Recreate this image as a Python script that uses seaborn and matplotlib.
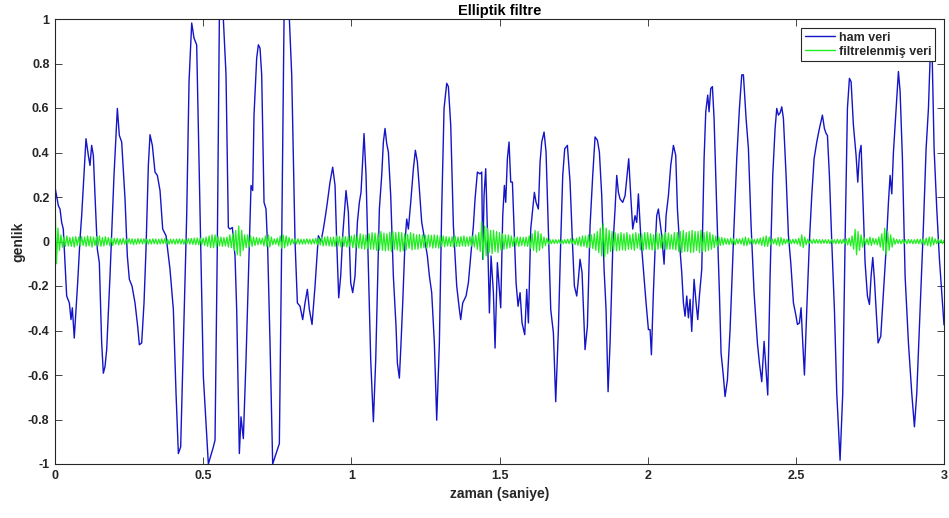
import numpy as np
import pandas as pd
import matplotlib
matplotlib.use("Agg")
import matplotlib.pyplot as plt
import seaborn as sns

# ---------------- data ----------------
raw_t = [0.0, 0.0113, 0.0169, 0.0225, 0.028, 0.0338, 0.0394, 0.0484, 0.054, 0.0585,
         0.065, 0.0731, 0.0765, 0.0844, 0.09, 0.0956, 0.1046, 0.1125, 0.1181, 0.1237,
         0.1294, 0.135, 0.1429, 0.1496, 0.1575, 0.1631, 0.1688, 0.1744, 0.1856, 0.1991,
         0.2104, 0.2171, 0.225, 0.2363, 0.2441, 0.2509, 0.2599, 0.27, 0.279, 0.2846,
         0.2925, 0.3004, 0.3071, 0.315, 0.3206, 0.3285, 0.3375, 0.3454, 0.3544, 0.3634,
         0.3746, 0.3881, 0.3994, 0.4084, 0.4163, 0.4241, 0.4331, 0.4444, 0.4523, 0.4613,
         0.4691, 0.4781, 0.4894, 0.5006, 0.5175, 0.5344, 0.54, 0.5479, 0.5546, 0.5681,
         0.5771, 0.585, 0.5906, 0.5985, 0.6075, 0.6131, 0.6221, 0.6277, 0.6356, 0.6446,
         0.6559, 0.6615, 0.6671, 0.6716, 0.6806, 0.6862, 0.6919, 0.6975, 0.7054, 0.7121,
         0.7178, 0.7256, 0.7346, 0.7459, 0.7571, 0.765, 0.7729, 0.7909, 0.7988, 0.81,
         0.8179, 0.8269, 0.8359, 0.8437, 0.8516, 0.8584, 0.8674, 0.8775, 0.8887, 0.8977,
         0.9056, 0.9135, 0.9191, 0.9281, 0.9371, 0.945, 0.9506, 0.9574, 0.9641, 0.9709,
         0.9765, 0.9821, 0.99, 0.9979, 1.0046, 1.0125, 1.0204, 1.0271, 1.0327, 1.0384,
         1.0429, 1.0496, 1.0575, 1.0654, 1.0744, 1.0823, 1.089, 1.0946, 1.1025, 1.1081,
         1.1137, 1.1194, 1.125, 1.1329, 1.1418, 1.1508, 1.1554, 1.1621, 1.1677, 1.1734,
         1.1812, 1.1869, 1.1925, 1.2004, 1.2094, 1.2161, 1.2229, 1.2296, 1.2375, 1.2487,
         1.2566, 1.2634, 1.2712, 1.2802, 1.2881, 1.2971, 1.305, 1.3129, 1.3219, 1.3275,
         1.3354, 1.3444, 1.3556, 1.3646, 1.3691, 1.3759, 1.3871, 1.395, 1.4029, 1.4119,
         1.4175, 1.4254, 1.4344, 1.44, 1.4434, 1.4479, 1.4535, 1.4602, 1.4659, 1.4715,
         1.4794, 1.485, 1.4928, 1.4996, 1.5041, 1.5109, 1.5165, 1.521, 1.5266, 1.5322,
         1.5379, 1.5435, 1.5502, 1.5559, 1.5626, 1.5694, 1.5761, 1.5851, 1.5919, 1.5975,
         1.6054, 1.611, 1.6177, 1.6234, 1.6312, 1.6369, 1.6425, 1.6504, 1.6571, 1.665,
         1.6729, 1.6819, 1.6897, 1.6987, 1.7066, 1.7134, 1.7201, 1.7291, 1.7381, 1.7471,
         1.7527, 1.7606, 1.7662, 1.7718, 1.7786, 1.7887, 1.7966, 1.8056, 1.8146, 1.8225,
         1.8304, 1.8371, 1.845, 1.8529, 1.8596, 1.8664, 1.8731, 1.8821, 1.89, 1.8956,
         1.9012, 1.9069, 1.9159, 1.9237, 1.9361, 1.9429, 1.9496, 1.9575, 1.9631, 1.9687,
         1.9766, 1.9856, 1.9946, 2.0025, 2.0081, 2.0126, 2.0193, 2.025, 2.0306, 2.0362,
         2.0419, 2.0475, 2.0554, 2.0621, 2.07, 2.0779, 2.0869, 2.0947, 2.1004, 2.1071,
         2.115, 2.1206, 2.1262, 2.1319, 2.1375, 2.1431, 2.1487, 2.1566, 2.1634, 2.169,
         2.1746, 2.1825, 2.1904, 2.196, 2.2027, 2.2072, 2.2129, 2.2185, 2.2241, 2.2331,
         2.2421, 2.2477, 2.2556, 2.2612, 2.2691, 2.2781, 2.2894, 2.3006, 2.3096, 2.3175,
         2.3231, 2.3321, 2.34, 2.349, 2.3591, 2.3703, 2.3771, 2.385, 2.3929, 2.3996,
         2.4052, 2.4131, 2.4221, 2.43, 2.4356, 2.4412, 2.4469, 2.4525, 2.4581, 2.4671,
         2.475, 2.4829, 2.4919, 2.4997, 2.5054, 2.5121, 2.5177, 2.5234, 2.529, 2.5369,
         2.5458, 2.5537, 2.5616, 2.5706, 2.5796, 2.5897, 2.5964, 2.6021, 2.6066, 2.6133,
         2.6212, 2.6302, 2.6381, 2.6493, 2.6583, 2.6662, 2.6741, 2.6808, 2.6865, 2.6943,
         2.7033, 2.709, 2.7146, 2.7202, 2.7259, 2.7337, 2.7416, 2.7484, 2.754, 2.7596,
         2.7652, 2.7709, 2.7776, 2.7866, 2.7934, 2.799, 2.8046, 2.8125, 2.8181, 2.8238,
         2.8294, 2.8384, 2.8462, 2.8519, 2.8597, 2.8687, 2.88, 2.8912, 2.9002, 2.9081,
         2.9193, 2.9306, 2.9396, 2.9475, 2.9531, 2.9587, 2.9666, 2.9756, 2.9846, 2.9925,
         3.0]

raw_v = [0.244, 0.161, 0.146, 0.086, 0.056, -0.095, -0.245, -0.276, -0.351, -0.298,
         -0.434, -0.261, -0.185, 0.011, 0.116, 0.252, 0.462, 0.387, 0.342, 0.432,
         0.387, 0.206, -0.035, -0.095, -0.456, -0.592, -0.562, -0.486, -0.155, 0.297,
         0.598, 0.477, 0.447, 0.191, -0.065, -0.170, -0.200, -0.276, -0.381, -0.464,
         -0.456, -0.276, -0.035, 0.342, 0.480, 0.432, 0.312, 0.297, 0.229, 0.056,
         0.026, -0.125, -0.306, -0.682, -0.953, -0.923, -0.456, 0.116, 0.718, 0.982,
         0.914, 0.884, 0.146, -0.607, -1.0, -0.923, -0.893, 0.0, 1.0, 1.0,
         0.749, 0.063, 0.056, 0.063, -0.065, -0.306, -0.953, -0.788, -0.886, -0.532,
         0.0, 0.252, 0.229, 0.568, 0.824, 0.884, 0.869, 0.749, 0.176, 0.146,
         -0.035, -0.456, -1.0, -0.953, -0.908, 0.0, 1.0, 1.0, 0.749, 0.0,
         -0.276, -0.291, -0.351, -0.276, -0.215, -0.306, -0.373, -0.200, 0.026, 0.0,
         0.056, 0.123, 0.176, 0.267, 0.334, 0.252, 0.0, -0.253, -0.155, 0.026,
         0.131, 0.229, 0.131, -0.185, -0.230, -0.155, 0.086, 0.176, 0.221, 0.372,
         0.485, 0.297, -0.125, -0.532, -0.810, -0.532, -0.155, 0.146, 0.297, 0.447,
         0.508, 0.440, 0.402, 0.206, -0.155, -0.381, -0.547, -0.614, -0.456, -0.276,
         0.0, 0.101, 0.056, 0.176, 0.327, 0.410, 0.357, 0.236, 0.086, 0.0,
         -0.065, -0.155, -0.230, -0.456, -0.803, -0.456, 0.146, 0.598, 0.711, 0.696,
         0.523, 0.071, -0.200, -0.306, -0.351, -0.276, -0.245, -0.185, -0.065, 0.071,
         0.191, 0.312, 0.304, 0.312, -0.080, 0.206, 0.327, 0.0, -0.321, -0.065,
         -0.230, -0.479, -0.095, -0.215, -0.298, 0.116, 0.252, 0.176, 0.372, 0.447,
         0.267, 0.267, 0.026, -0.185, -0.291, -0.230, -0.366, -0.419, -0.215, -0.366,
         0.056, 0.131, 0.221, 0.176, 0.146, 0.357, 0.447, 0.492, 0.402, 0.056,
         -0.306, -0.411, -0.720, -0.396, 0.0, 0.297, 0.417, 0.432, 0.267, -0.035,
         -0.200, -0.245, -0.170, -0.080, -0.140, -0.486, -0.381, 0.071, 0.297, 0.470,
         0.455, 0.402, 0.206, -0.125, -0.306, -0.675, -0.456, -0.035, 0.146, 0.297,
         0.221, 0.191, 0.176, 0.206, 0.372, 0.206, 0.056, 0.116, 0.086, 0.214,
         0.026, -0.125, -0.276, -0.396, -0.396, -0.509, -0.230, -0.035, 0.116, 0.146,
         0.086, 0.026, -0.102, 0.116, 0.206, 0.342, 0.432, 0.387, 0.146, 0.0,
         -0.140, -0.276, -0.336, -0.245, -0.343, -0.260, -0.404, -0.170, -0.276, -0.351,
         -0.245, -0.125, 0.372, 0.583, 0.658, 0.583, 0.688, 0.696, 0.553, 0.146,
         -0.230, -0.501, -0.607, -0.697, -0.622, -0.396, 0.0, 0.372, 0.598, 0.749,
         0.749, 0.553, 0.417, 0.071, -0.230, -0.456, -0.547, -0.630, -0.449, -0.577,
         -0.690, -0.155, 0.297, 0.508, 0.598, 0.568, 0.578, 0.605, 0.553, 0.297,
         0.026, -0.095, -0.276, -0.328, -0.373, -0.366, -0.298, -0.456, -0.600, -0.306,
         0.0, 0.206, 0.372, 0.447, 0.508, 0.568, 0.508, 0.485, 0.477, 0.297,
         0.0, -0.306, -0.682, -0.983, -0.682, 0.0, 0.598, 0.733, 0.718, 0.523,
         0.387, 0.267, 0.395, 0.432, 0.206, -0.095, -0.245, -0.283, -0.155, -0.072,
         -0.170, -0.306, -0.456, -0.426, -0.276, -0.155, -0.035, 0.176, 0.297, 0.214,
         0.402, 0.598, 0.764, 0.673, 0.372, -0.155, -0.456, -0.682, -0.833, -0.682,
         -0.306, 0.071, 0.417, 0.598, 0.824, 0.920, 0.417, 0.146, -0.080, -0.230,
         -0.375]

# filtered signal, sampled every 0.005 s from 0 to 3 s (one row = 0.1 s)
filt_v = [
    0.20, -0.10, 0.06, -0.04, 0.03, -0.025, 0.02, -0.022, 0.025, -0.02, 0.018, -0.022, 0.02, -0.025, 0.022, -0.018, 0.02, -0.02, 0.022, -0.018,
    0.02, -0.022, 0.025, -0.02, 0.022, -0.025, 0.02, -0.018, 0.022, -0.02, 0.025, -0.022, 0.018, -0.02, 0.022, -0.015, 0.018, -0.02, 0.015, -0.018,
    0.015, -0.012, 0.014, -0.015, 0.012, -0.013, 0.015, -0.012, 0.01, -0.012, 0.013, -0.011, 0.012, -0.014, 0.011, -0.012, 0.013, -0.01, 0.012, -0.011,
    0.012, -0.01, 0.011, -0.012, 0.01, -0.011, 0.012, -0.01, 0.011, -0.012, 0.01, -0.011, 0.012, -0.01, 0.013, -0.011, 0.01, -0.012, 0.011, -0.01,
    0.01, -0.012, 0.011, -0.01, 0.012, -0.011, 0.01, -0.012, 0.011, -0.01, 0.013, -0.012, 0.014, -0.013, 0.015, -0.014, 0.016, -0.015, 0.015, -0.016,
    0.015, -0.018, 0.02, -0.022, 0.025, -0.028, 0.03, -0.028, 0.03, -0.025, 0.022, -0.02, 0.02, -0.022, 0.018, -0.02, 0.02, -0.025, 0.03, -0.028,
    0.035, -0.04, 0.05, -0.06, 0.07, -0.065, 0.05, -0.04, 0.03, -0.028, 0.03, -0.025, 0.025, -0.022, 0.02, -0.018, 0.018, -0.015, 0.015, -0.012,
    0.015, -0.02, 0.025, -0.022, 0.03, -0.025, 0.02, -0.015, 0.012, -0.012, 0.015, -0.02, 0.025, -0.03, 0.03, -0.028, 0.025, -0.02, 0.018, -0.015,
    0.012, -0.01, 0.012, -0.011, 0.012, -0.012, 0.01, -0.012, 0.01, -0.011, 0.012, -0.01, 0.01, -0.012, 0.011, -0.01, 0.014, -0.015, 0.015, -0.016,
    0.018, -0.02, 0.02, -0.018, 0.022, -0.02, 0.018, -0.022, 0.02, -0.022, 0.025, -0.02, 0.022, -0.025, 0.02, -0.022, 0.022, -0.025, 0.025, -0.022,
    0.025, -0.028, 0.03, -0.028, 0.025, -0.03, 0.035, -0.032, 0.03, -0.035, 0.03, -0.032, 0.035, -0.035, 0.04, -0.035, 0.038, -0.04, 0.035, -0.038,
    0.045, -0.04, 0.038, -0.042, 0.035, -0.04, 0.042, -0.045, 0.045, -0.035, 0.04, -0.038, 0.042, -0.045, 0.04, -0.042, 0.035, -0.038, 0.032, -0.03,
    0.04, -0.038, 0.035, -0.035, 0.03, -0.035, 0.032, -0.03, 0.03, -0.028, 0.028, -0.03, 0.03, -0.025, 0.028, -0.03, 0.03, -0.028, 0.028, -0.03,
    0.025, -0.022, 0.025, -0.024, 0.022, -0.02, 0.02, -0.022, 0.022, -0.025, 0.025, -0.022, 0.02, -0.022, 0.022, -0.02, 0.025, -0.022, 0.02, -0.02,
    0.022, -0.02, 0.025, -0.025, 0.03, -0.035, 0.04, -0.045, 0.09, -0.08, 0.07, -0.065, 0.06, -0.05, 0.05, -0.055, 0.05, -0.045, 0.045, -0.05,
    0.04, -0.038, 0.035, -0.035, 0.03, -0.032, 0.03, -0.028, 0.025, -0.022, 0.02, -0.02, 0.02, -0.022, 0.02, -0.018, 0.018, -0.02, 0.02, -0.022,
    0.025, -0.03, 0.035, -0.04, 0.05, -0.048, 0.045, -0.04, 0.035, -0.03, 0.02, -0.018, 0.015, -0.012, 0.01, -0.01, 0.008, -0.009, 0.008, -0.008,
    0.008, -0.009, 0.008, -0.01, 0.008, -0.009, 0.01, -0.01, 0.012, -0.01, 0.012, -0.014, 0.015, -0.018, 0.02, -0.022, 0.025, -0.022, 0.025, -0.028,
    0.03, -0.028, 0.03, -0.032, 0.035, -0.04, 0.045, -0.05, 0.06, -0.065, 0.08, -0.07, 0.06, -0.055, 0.05, -0.045, 0.045, -0.04, 0.04, -0.042,
    0.035, -0.04, 0.04, -0.038, 0.035, -0.04, 0.04, -0.035, 0.03, -0.035, 0.035, -0.04, 0.04, -0.03, 0.035, -0.038, 0.035, -0.04, 0.04, -0.035,
    0.04, -0.035, 0.035, -0.038, 0.03, -0.04, 0.04, -0.035, 0.035, -0.03, 0.03, -0.035, 0.04, -0.035, 0.038, -0.035, 0.03, -0.035, 0.04, -0.038,
    0.04, -0.045, 0.045, -0.05, 0.05, -0.045, 0.04, -0.045, 0.045, -0.05, 0.05, -0.048, 0.045, -0.04, 0.045, -0.05, 0.05, -0.045, 0.04, -0.045,
    0.045, -0.04, 0.04, -0.035, 0.03, -0.028, 0.025, -0.022, 0.02, -0.018, 0.018, -0.015, 0.015, -0.012, 0.012, -0.014, 0.015, -0.013, 0.012, -0.015,
    0.012, -0.01, 0.012, -0.011, 0.015, -0.018, 0.02, -0.018, 0.015, -0.012, 0.012, -0.01, 0.01, -0.012, 0.012, -0.011, 0.015, -0.018, 0.02, -0.022,
    0.025, -0.022, 0.02, -0.015, 0.012, -0.01, 0.012, -0.015, 0.018, -0.02, 0.018, -0.015, 0.012, -0.01, 0.01, -0.01, 0.009, -0.01, 0.01, -0.009,
    0.01, -0.012, 0.015, -0.02, 0.03, -0.028, 0.02, -0.015, 0.01, -0.008, 0.008, -0.009, 0.01, -0.008, 0.009, -0.008, 0.008, -0.009, 0.008, -0.008,
    0.008, -0.009, 0.008, -0.01, 0.009, -0.008, 0.008, -0.01, 0.01, -0.009, 0.008, -0.009, 0.01, -0.012, 0.012, -0.015, 0.015, -0.02, 0.025, -0.035,
    0.055, -0.06, 0.045, -0.04, 0.03, -0.025, 0.02, -0.015, 0.012, -0.015, 0.02, -0.018, 0.015, -0.012, 0.012, -0.015, 0.02, -0.025, 0.035, -0.04,
    0.06, -0.06, 0.045, -0.04, 0.03, -0.025, 0.015, -0.012, 0.01, -0.009, 0.008, -0.01, 0.008, -0.009, 0.008, -0.01, 0.009, -0.008, 0.008, -0.01,
    0.008, -0.009, 0.01, -0.01, 0.01, -0.012, 0.012, -0.015, 0.015, -0.018, 0.02, -0.022, 0.02, -0.015, 0.012, -0.01, 0.01, -0.009, 0.008, -0.01,
    0.005]
filt_t = np.linspace(0.0, 3.0, len(filt_v))

x_ticks = [0, 0.5, 1, 1.5, 2, 2.5, 3]
x_ticklabels = ["0", "0.5", "1", "1.5", "2", "2.5", "3"]
y_ticks = [-1, -0.8, -0.6, -0.4, -0.2, 0, 0.2, 0.4, 0.6, 0.8, 1]
y_ticklabels = ["-1", "-0.8", "-0.6", "-0.4", "-0.2", "0", "0.2", "0.4", "0.6", "0.8", "1"]

title_text = "Elliptik filtre"
x_label = "zaman (saniye)"
y_label = "genlik"
series_names = ["ham veri", "filtrelenmiş veri"]

# ---------------- plotting ----------------
sns.set_theme(style="white")
plt.rcParams["font.family"] = ["Liberation Sans", "DejaVu Sans"]

raw_df = pd.DataFrame({"t": raw_t, "v": raw_v})
filt_df = pd.DataFrame({"t": filt_t, "v": filt_v})

fig = plt.figure(figsize=(9.49, 5.18), dpi=100)
ax = fig.add_axes([55 / 949, 1 - 464 / 518, (944 - 55) / 949, (464 - 19) / 518])

sns.lineplot(data=raw_df, x="t", y="v", ax=ax, color="#1414c8", linewidth=1.0,
             estimator=None, sort=False, label=series_names[0])
sns.lineplot(data=filt_df, x="t", y="v", ax=ax, color="#1fee1f", linewidth=0.9,
             estimator=None, sort=False, label=series_names[1])

ax.set_xlim(0, 3)
ax.set_ylim(-1, 1)
ax.set_xticks(x_ticks)
ax.set_xticklabels(x_ticklabels)
ax.set_yticks(y_ticks)
ax.set_yticklabels(y_ticklabels)

for sp in ax.spines.values():
    sp.set_visible(True)
    sp.set_color("#262626")
    sp.set_linewidth(0.8)

ax.tick_params(axis="both", which="both", direction="in", length=5, width=0.6,
               color="#262626", top=True, right=True, bottom=True, left=True,
               labelsize=9, labelcolor="#262626", pad=4)
for lbl in ax.get_xticklabels() + ax.get_yticklabels():
    lbl.set_fontweight("bold")

ax.set_title(title_text, fontsize=10.5, fontweight="bold", color="#000000", pad=3)
ax.set_xlabel(x_label, fontsize=10, fontweight="bold", color="#262626", labelpad=4)
ax.set_ylabel(y_label, fontsize=10, fontweight="bold", color="#262626", labelpad=1.5)

leg = ax.legend(loc="upper right", bbox_to_anchor=(0.9899, 0.98), frameon=True,
                fancybox=False, framealpha=1.0, edgecolor="#262626",
                prop={"weight": "bold", "size": 9}, handlelength=2.4,
                borderpad=0.3, labelspacing=0.15, handletextpad=0.3,
                borderaxespad=0.0)
leg.get_frame().set_linewidth(0.8)
for line in leg.get_lines():
    line.set_linewidth(1.0)

fig.savefig("out.png", dpi=100, facecolor="white")
